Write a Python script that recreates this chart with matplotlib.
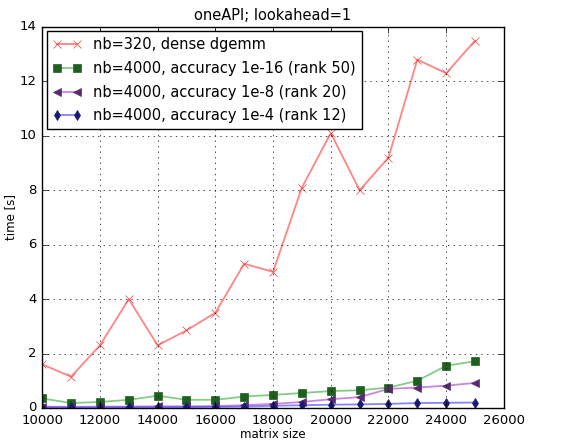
import numpy as np
import matplotlib
matplotlib.use("Agg")
import matplotlib.pyplot as plt
from matplotlib.colors import to_rgba

plt.style.use('classic')

sizes = np.arange(10000, 26000, 1000)
dense_320 = [1.6, 1.15, 2.3, 4.0, 2.3, 2.85, 3.5, 5.3, 5.0, 8.1, 10.1, 8.0, 9.2, 12.8, 12.3, 13.5]
acc_1e16 = [0.35, 0.18, 0.22, 0.3, 0.45, 0.3, 0.3, 0.42, 0.48, 0.55, 0.62, 0.65, 0.75, 1.0, 1.55, 1.72]
acc_1e8 = [0.05, 0.04, 0.05, 0.05, 0.06, 0.06, 0.07, 0.1, 0.15, 0.22, 0.32, 0.4, 0.7, 0.75, 0.82, 0.92]
acc_1e4 = [0.02, 0.02, 0.02, 0.03, 0.03, 0.03, 0.04, 0.05, 0.08, 0.1, 0.12, 0.13, 0.15, 0.18, 0.19, 0.2]

labels = ['nb=320, dense dgemm',
          'nb=4000, accuracy 1e-16 (rank 50)',
          'nb=4000, accuracy 1e-8 (rank 20)',
          'nb=4000, accuracy 1e-4 (rank 12)']

fig = plt.figure(figsize=(5.63, 4.42), dpi=100)
ax = fig.add_axes([0.075, 0.077, 0.82, 0.862])

# line colour is faded, markers stay solid
series = [(dense_320, '#ff3333', 'x', '#ee4444'),
          (acc_1e16, '#33aa33', 's', '#1f5f1f'),
          (acc_1e8, '#aa33cc', '<', '#5a2a70'),
          (acc_1e4, '#3333ff', 'd', '#1a1a70')]
for (vals, col, mk, mcol), lab in zip(series, labels):
    ax.plot(sizes, vals, color=to_rgba(col, 0.6), linewidth=1.3, marker=mk,
            markersize=5.5, markerfacecolor=mcol, markeredgecolor=mcol,
            label=lab)

ax.set_xlim(10000, 26000)
ax.set_ylim(0, 14)
ax.set_xticks(np.arange(10000, 26001, 2000))
ax.set_yticks(np.arange(0, 15, 2))
ax.tick_params(labelsize=9.5)
ax.grid(True)
ax.set_xlabel('matrix size', fontsize=8.5, labelpad=1)
ax.set_ylabel('time [s]', fontsize=8.5, labelpad=2)
ax.set_title('oneAPI; lookahead=1', fontsize=10.5)
ax.legend(loc='upper left', fontsize=10.5, numpoints=2, handlelength=2.0,
          borderaxespad=0.3, labelspacing=0.6)

plt.savefig('out.png', dpi=100)
